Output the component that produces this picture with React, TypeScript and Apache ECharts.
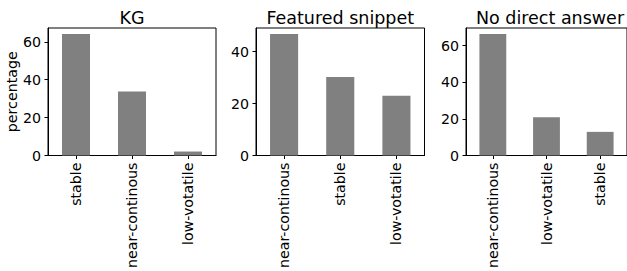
import React, { useEffect, useRef } from "react";
import * as echarts from "echarts";

const titles = ["KG", "Featured snippet", "No direct answer"];
const kgCategories = ["stable", "near-continous", "low-votatile"];
const kgValues = [64.1, 33.8, 2.1];
const fsCategories = ["near-continous", "stable", "low-votatile"];
const fsValues = [46.8, 30.3, 23.0];
const ndCategories = ["near-continous", "low-votatile", "stable"];
const ndValues = [66.3, 20.9, 12.9];
const kgTicks = [0, 20, 40, 60];
const fsTicks = [0, 20, 40];
const ndTicks = [0, 20, 40, 60];

const FONT = "DejaVu Sans";

export default function App() {
  const ref = useRef<HTMLDivElement>(null);
  useEffect(() => {
    if (!ref.current) return;
    const chart = echarts.init(ref.current, null, { renderer: "svg" });
    const panels = [
      { cats: kgCategories, vals: kgValues, ticks: kgTicks, left: 48, width: 168 },
      { cats: fsCategories, vals: fsValues, ticks: fsTicks, left: 256, width: 168.5 },
      { cats: ndCategories, vals: ndValues, ticks: ndTicks, left: 466, width: 168 },
    ];
    const grid = panels.map((p) => ({
      left: p.left,
      width: p.width,
      top: 28,
      height: 129,
      show: true,
      borderColor: "#000",
      borderWidth: 1,
      backgroundColor: "transparent",
      containLabel: false,
    }));
    const xAxis = panels.map((p, i) => ({
      type: "category",
      gridIndex: i,
      data: p.cats,
      boundaryGap: true,
      axisLine: { show: true, lineStyle: { color: "#000", width: 1 } },
      axisTick: { show: true, alignWithLabel: true, length: 3.5, lineStyle: { color: "#000", width: 1 } },
      axisLabel: {
        rotate: 90,
        margin: 7,
        color: "#000",
        fontFamily: FONT,
        fontSize: 14.2,
        interval: 0,
      },
      splitLine: { show: false },
    }));
    const yAxis = panels.map((p, i) => {
      const maxV = Math.max(...p.vals) * 1.05;
      return {
        type: "value",
        gridIndex: i,
        min: 0,
        max: maxV,
        name: i === 0 ? "percentage" : "",
        nameLocation: "middle",
        nameRotate: 90,
        nameGap: 28,
        nameTextStyle: { color: "#000", fontFamily: FONT, fontSize: 14.2 },
        axisLine: { show: true, lineStyle: { color: "#000", width: 1 } },
        axisTick: { show: true, length: 3.5, lineStyle: { color: "#000", width: 1 }, customValues: p.ticks },
        axisLabel: {
          margin: 7,
          color: "#000",
          fontFamily: FONT,
          fontSize: 14.2,
          customValues: p.ticks,
        },
        splitLine: { show: false },
      };
    });
    const series = panels.map((p, i) => ({
      type: "bar",
      xAxisIndex: i,
      yAxisIndex: i,
      data: p.vals,
      barWidth: "50%",
      itemStyle: { color: "#808080" },
    }));
    const title = panels.map((p, i) => ({
      text: titles[i],
      left: p.left + p.width / 2,
      top: 9,
      padding: 0,
      textAlign: "center",
      textStyle: { color: "#000", fontFamily: FONT, fontSize: 17.5, fontWeight: "normal" },
    }));
    chart.setOption({
      animation: false,
      backgroundColor: "#fff",
      title,
      grid,
      xAxis,
      yAxis,
      series,
    } as any);
    return () => chart.dispose();
  }, []);
  return (
    <div
      ref={ref}
      style={{ position: "fixed", left: 0, top: 0, width: 627, height: 271 }}
    />
  );
}
